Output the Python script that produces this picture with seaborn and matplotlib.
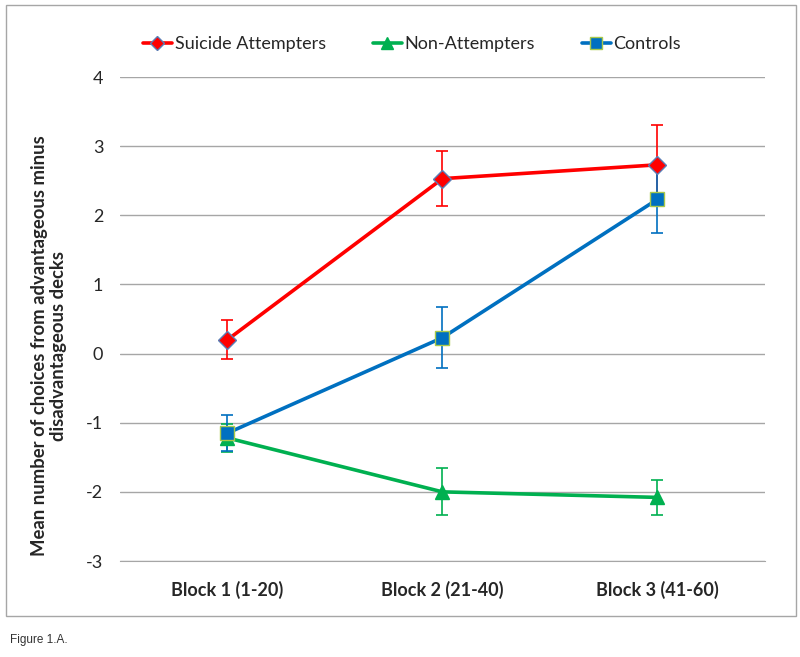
import numpy as np
import pandas as pd
import seaborn as sns
import matplotlib.pyplot as plt
from matplotlib.lines import Line2D
from matplotlib.patches import Rectangle

blocks = ["Block 1 (1-20)", "Block 2 (21-40)", "Block 3 (41-60)"]
groups = ["Suicide Attempters", "Non-Attempters", "Controls"]

suicide_mean = [0.20, 2.53, 2.73]
suicide_err = [0.28, 0.40, 0.58]
non_mean = [-1.22, -2.00, -2.08]
non_err = [0.20, 0.34, 0.25]
control_mean = [-1.15, 0.23, 2.23]
control_err = [0.26, 0.44, 0.49]

colors = {"Suicide Attempters": "#FF0000", "Non-Attempters": "#00B050", "Controls": "#0070C0"}
markers = {"Suicide Attempters": "D", "Non-Attempters": "^", "Controls": "s"}
edges = {"Suicide Attempters": "#5B7DB5", "Non-Attempters": "#00B050", "Controls": "#A9C94A"}
msizes = {"Suicide Attempters": 9, "Non-Attempters": 10, "Controls": 10}

df = pd.DataFrame({
    "block": blocks * 3,
    "group": [g for g in groups for _ in blocks],
    "mean": suicide_mean + non_mean + control_mean,
    "err": suicide_err + non_err + control_err,
})
df["pos"] = df["block"].map({b: i for i, b in enumerate(blocks)})

sns.set_style("white")
plt.rcParams['font.family'] = ['Lato', 'DejaVu Sans']

fig = plt.figure(figsize=(8, 6.57), dpi=100)
ax = fig.add_axes([0.15, 0.1461, 0.806, 0.7367])

# error bars first, behind the lines
for g in groups:
    sub = df[df["group"] == g]
    ax.errorbar(sub["pos"], sub["mean"], yerr=sub["err"], fmt="none",
                ecolor=colors[g], elinewidth=1.2, capsize=4, capthick=1.2, zorder=2)

sns.lineplot(data=df, x="pos", y="mean", hue="group", palette=colors, linewidth=2.6,
             legend=False, ax=ax, zorder=3)
for g in groups:
    sub = df[df["group"] == g]
    ax.plot(sub["pos"], sub["mean"], linestyle="none", marker=markers[g], markersize=msizes[g],
            markerfacecolor=colors[g], markeredgecolor=edges[g], markeredgewidth=1, zorder=4)

ax.set_xlim(-0.5, 2.5)
ax.set_ylim(-3, 4)
ax.set_yticks(range(-3, 5))
ax.set_yticklabels([str(v) for v in range(-3, 5)], fontsize=13)
ax.set_xticks(range(3))
ax.set_xticklabels(blocks, fontsize=13, fontweight="bold")
ax.tick_params(axis="y", length=0, pad=12)
ax.tick_params(axis="x", length=0, pad=14)
ax.yaxis.grid(True, color="#A6A6A6", linewidth=1)
ax.set_axisbelow(True)
for s in ["left", "right", "top"]:
    ax.spines[s].set_visible(False)
ax.spines["bottom"].set_color("#A6A6A6")
ax.set_xlabel("")
ax.set_ylabel("")
fig.text(49 / 800, 1 - 346 / 657,
         "Mean number of choices from advantageous minus\ndisadvantageous decks",
         rotation=90, ha="center", va="center", multialignment="center",
         fontsize=13.3, fontweight="bold", linespacing=1.2)

handles = [Line2D([], [], color=colors[g], linewidth=2.6, marker=markers[g], markersize=msizes[g] - 2,
                  markerfacecolor=colors[g], markeredgecolor=edges[g]) for g in groups]
fig.legend(handles, groups, loc="center", bbox_to_anchor=(0.515, 0.933), ncol=3, frameon=False,
           fontsize=13, handlelength=1.6, handletextpad=0.15, columnspacing=2.6)

fig.patches.append(Rectangle((0.007, 0.062), 0.988, 0.93, transform=fig.transFigure,
                             fill=False, edgecolor="#A6A6A6", linewidth=1))
fig.text(0.012, 0.022, "Figure 1.A.", fontsize=8.5, family="Liberation Sans", color="#333333")

fig.savefig("out.png", dpi=100)
